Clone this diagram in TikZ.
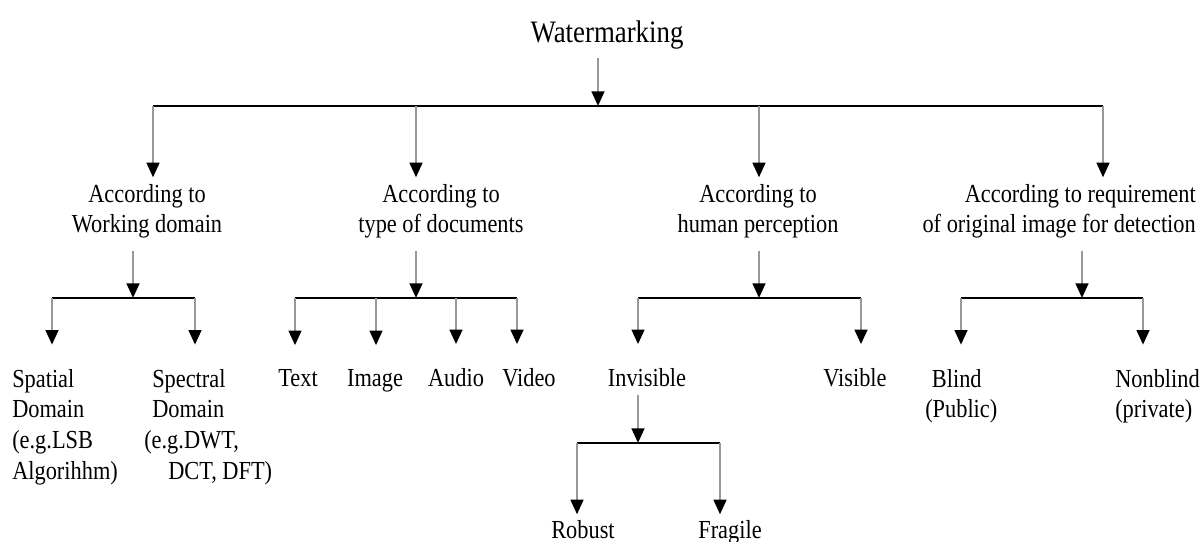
\documentclass[tikz,border=0pt]{standalone}
\usepackage{fontspec}
\setmainfont{Liberation Serif}[FakeStretch=0.86]
\usepackage{tikz}
\usetikzlibrary{arrows.meta, positioning}
\tikzstyle{title} = [inner sep=0pt, font=\fontsize{23.4}{28}\selectfont]
\tikzstyle{class} = [inner sep=0pt, align=center, font=\fontsize{19.5}{23}\selectfont]
\tikzstyle{leaf} = [inner sep=0pt, align=left, font=\fontsize{19.5}{23}\selectfont]
\tikzstyle{bar} = [line width=1.5pt, draw=black]
\tikzstyle{arrow} = [line width=1.9pt, draw=gray!80, -{Triangle[width=9.5pt,length=11pt,color=black]}]

\begin{document}
\begin{tikzpicture}[x=0.75pt, y=-0.75pt]
        \useasboundingbox (0,0) rectangle (1203,542);

        % root and first level
        \node (wm) [title, anchor=base] at (607,43) {Watermarking};
        \node (domain) [class, anchor=north] at (147,184) {According to\\Working domain};
        \node (doctype) [class, anchor=north] at (441,184) {According to\\type of documents};
        \node (percept) [class, anchor=north] at (758,184) {According to\\human perception};
        \node (require) [class, align=right, anchor=north east] at (1196,184) {According to requirement\\of original image for detection};

        % second level
        \node (spatial) [leaf, anchor=north west] at (12,368.7) {Spatial\\Domain\\(e.g.LSB\\Algorihhm)};
        \node (spectral) [leaf, anchor=north west] at (144,368.7) {\hspace*{6pt}Spectral\\\hspace*{6pt}Domain\\(e.g.DWT,\\\hspace*{18pt}DCT, DFT)};
        \node (text) [leaf, anchor=base] at (298,386.5) {Text};
        \node (image) [leaf, anchor=base] at (375,386.5) {Image};
        \node (audio) [leaf, anchor=base] at (456,386.5) {Audio};
        \node (video) [leaf, anchor=base] at (529,386.5) {Video};
        \node (invisible) [leaf, anchor=base] at (647,386.5) {Invisible};
        \node (visible) [leaf, anchor=base] at (855,386.5) {Visible};
        \node (blind) [leaf, anchor=north west] at (925,368.7) {\hspace*{5pt}Blind\\(Public)};
        \node (nonblind) [leaf, anchor=north west] at (1115,368.7) {Nonblind\\(private)};
        \node (robust) [leaf, anchor=base] at (583,538) {Robust};
        \node (fragile) [leaf, anchor=base] at (730,538) {Fragile};

        % bar points
        \coordinate (top) at (598,106);
        \coordinate (topA) at (153,106);
        \coordinate (topB) at (416,106);
        \coordinate (topC) at (759,106);
        \coordinate (topD) at (1103,106);
        \coordinate (domainbar) at (133,298);
        \coordinate (domainL) at (52,298);
        \coordinate (domainR) at (195,298);
        \coordinate (docbar) at (416,298);
        \coordinate (docA) at (295,298);
        \coordinate (docB) at (376,298);
        \coordinate (docC) at (456,298);
        \coordinate (docD) at (517,298);
        \coordinate (perceptbar) at (759,298);
        \coordinate (perceptL) at (638,298);
        \coordinate (perceptR) at (861,298);
        \coordinate (invbar) at (638,443);
        \coordinate (invL) at (577,443);
        \coordinate (invR) at (720,443);
        \coordinate (requirebar) at (1082,298);
        \coordinate (requireL) at (961,298);
        \coordinate (requireR) at (1143,298);

        \draw [bar] (topA) -- (topD);
        \draw [bar] (domainL) -- (domainR);
        \draw [bar] (docA) -- (docD);
        \draw [bar] (perceptL) -- (perceptR);
        \draw [bar] (invL) -- (invR);
        \draw [bar] (requireL) -- (requireR);

        \draw [arrow, shorten <=6pt] (top |- wm.south) -- (top);
        \draw [arrow, shorten >=5pt] (topA) -- (topA |- domain.north);
        \draw [arrow, shorten >=5pt] (topB) -- (topB |- doctype.north);
        \draw [arrow, shorten >=5pt] (topC) -- (topC |- percept.north);
        \draw [arrow, shorten >=5pt] (topD) -- (topD |- require.north);

        \draw [arrow, shorten <=9pt] (domainbar |- domain.south) -- (domainbar);
        \draw [arrow, shorten <=9pt] (docbar |- doctype.south) -- (docbar);
        \draw [arrow, shorten <=9pt] (perceptbar |- percept.south) -- (perceptbar);
        \draw [arrow, shorten <=9pt] (requirebar |- require.south) -- (requirebar);
        \draw [arrow, shorten <=6pt] (invbar |- invisible.south) -- (invbar);

        \draw [arrow, shorten >=18pt] (domainL) -- (domainL |- spatial.north);
        \draw [arrow, shorten >=18pt] (domainR) -- (domainR |- spectral.north);
        \draw [arrow, shorten >=18pt] (docA) -- (docA |- text.north);
        \draw [arrow, shorten >=18pt] (docB) -- (docB |- image.north);
        \draw [arrow, shorten >=18pt] (docC) -- (docC |- audio.north);
        \draw [arrow, shorten >=18pt] (docD) -- (docD |- video.north);
        \draw [arrow, shorten >=18pt] (perceptL) -- (perceptL |- invisible.north);
        \draw [arrow, shorten >=18pt] (perceptR) -- (perceptR |- visible.north);
        \draw [arrow, shorten >=18pt] (requireL) -- (requireL |- blind.north);
        \draw [arrow, shorten >=18pt] (requireR) -- (requireR |- nonblind.north);
        \draw [arrow, shorten >=4pt] (invL) -- (invL |- robust.north);
        \draw [arrow, shorten >=4pt] (invR) -- (invR |- fragile.north);

    \end{tikzpicture}
\end{document}
